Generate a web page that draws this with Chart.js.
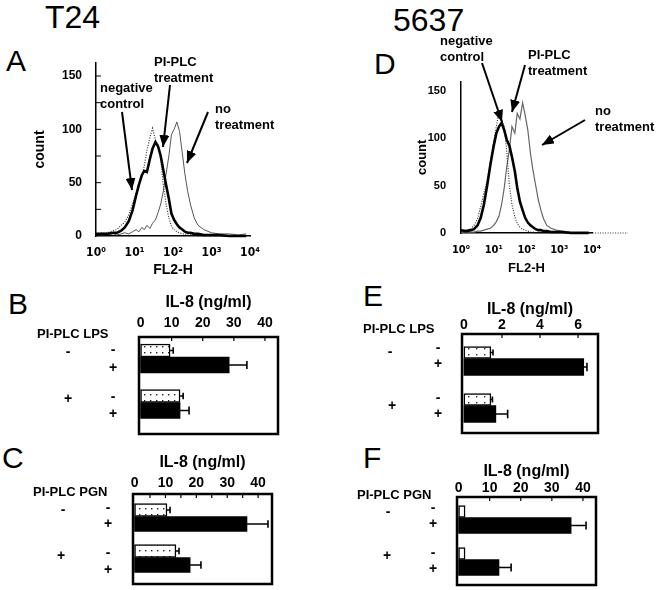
<!DOCTYPE html>
<html>
<head>
<meta charset="utf-8">
<script src="https://cdn.jsdelivr.net/npm/chart.js@4.4.1/dist/chart.umd.min.js"></script>
<style>
  body { margin: 0; background: #fff; }
  #page { position: relative; width: 659px; height: 590px; overflow: hidden;
          font-family: "Liberation Sans", Arial, sans-serif; color: #000; }
  .box { position: absolute; }
  .lbl { position: absolute; white-space: nowrap; line-height: 1; }
  .big { font-size: 30px; }
  .head { font-size: 32px; }
  .note { font-size: 13px; font-weight: bold; line-height: 16px; }
  .hdr { font-size: 13px; font-weight: bold; }
  .sgn { font-size: 14px; font-weight: bold; width: 20px; text-align: center; }
  svg { position: absolute; left: 0; top: 0; pointer-events: none; }
</style>
</head>
<body>
<div id="page">
  <div class="lbl head" style="left:45px;top:1px">T24</div>
  <div class="lbl head" style="left:393px;top:4px">5637</div>

  <div class="lbl big" style="left:6px;top:46px">A</div>
  <div class="lbl big" style="left:8px;top:289px">B</div>
  <div class="lbl big" style="left:2px;top:443px">C</div>
  <div class="lbl big" style="left:374px;top:49px">D</div>
  <div class="lbl big" style="left:363px;top:281px">E</div>
  <div class="lbl big" style="left:363px;top:443px">F</div>

  <div class="box" style="left:0;top:40px;width:290px;height:245px"><canvas id="chartA"></canvas></div>
  <div class="box" style="left:380px;top:60px;width:275px;height:225px"><canvas id="chartD"></canvas></div>
  <div class="box" style="left:130px;top:290px;width:160px;height:150px"><canvas id="chartB"></canvas></div>
  <div class="box" style="left:125px;top:440px;width:160px;height:150px"><canvas id="chartC"></canvas></div>
  <div class="box" style="left:450px;top:280px;width:170px;height:160px"><canvas id="chartE"></canvas></div>
  <div class="box" style="left:445px;top:440px;width:170px;height:150px"><canvas id="chartF"></canvas></div>

  <!-- histogram annotations -->
  <div class="lbl note" style="left:154px;top:53.5px">PI-PLC<br>treatment</div>
  <div class="lbl note" style="left:100px;top:79.5px">negative<br>control</div>
  <div class="lbl note" style="left:215px;top:100.5px">no<br>treatment</div>
  <div class="lbl note" style="left:440px;top:33px">negative<br>control</div>
  <div class="lbl note" style="left:528px;top:47px">PI-PLC<br>treatment</div>
  <div class="lbl note" style="left:595px;top:102.5px">no<br>treatment</div>

  <svg width="659" height="590">
    <defs>
      <marker id="head" markerUnits="userSpaceOnUse" markerWidth="12" markerHeight="10"
              viewBox="0 0 12 10" refX="12" refY="5" orient="auto">
        <path d="M0,0 L12,5 L0,10 z" fill="#000"/>
      </marker>
    </defs>
    <g stroke="#000" stroke-width="2" marker-end="url(#head)">
      <line x1="122" y1="112" x2="132" y2="190"/>
      <line x1="170" y1="85" x2="163" y2="147"/>
      <line x1="208" y1="112" x2="187" y2="163"/>
      <line x1="482" y1="63" x2="502" y2="122"/>
      <line x1="525" y1="65" x2="512" y2="112"/>
      <line x1="585" y1="120" x2="542" y2="145"/>
    </g>
  </svg>

  <!-- bar chart row labels -->
  <div class="lbl hdr" style="left:37px;top:327px">PI-PLC LPS</div>
  <div class="lbl sgn" style="left:58px;top:344px">-</div>
  <div class="lbl sgn" style="left:103px;top:342px">-</div>
  <div class="lbl sgn" style="left:103px;top:360px">+</div>
  <div class="lbl sgn" style="left:58px;top:391px">+</div>
  <div class="lbl sgn" style="left:103px;top:389px">-</div>
  <div class="lbl sgn" style="left:103px;top:406px">+</div>

  <div class="lbl hdr" style="left:33px;top:485px">PI-PLC PGN</div>
  <div class="lbl sgn" style="left:53px;top:502px">-</div>
  <div class="lbl sgn" style="left:98px;top:500px">-</div>
  <div class="lbl sgn" style="left:98px;top:516px">+</div>
  <div class="lbl sgn" style="left:51px;top:548px">+</div>
  <div class="lbl sgn" style="left:98px;top:545px">-</div>
  <div class="lbl sgn" style="left:98px;top:562px">+</div>

  <div class="lbl hdr" style="left:363px;top:322px">PI-PLC LPS</div>
  <div class="lbl sgn" style="left:380px;top:344px">-</div>
  <div class="lbl sgn" style="left:428px;top:340px">-</div>
  <div class="lbl sgn" style="left:428px;top:356px">+</div>
  <div class="lbl sgn" style="left:382px;top:398px">+</div>
  <div class="lbl sgn" style="left:428px;top:390px">-</div>
  <div class="lbl sgn" style="left:428px;top:406px">+</div>

  <div class="lbl hdr" style="left:357px;top:488px">PI-PLC PGN</div>
  <div class="lbl sgn" style="left:378px;top:504px">-</div>
  <div class="lbl sgn" style="left:423px;top:500px">-</div>
  <div class="lbl sgn" style="left:423px;top:516px">+</div>
  <div class="lbl sgn" style="left:377px;top:548px">+</div>
  <div class="lbl sgn" style="left:423px;top:545px">-</div>
  <div class="lbl sgn" style="left:423px;top:561px">+</div>
</div>

<script>
// ---- histogram data (FL2-H channel, cell count) ----
const fl2A = [1, 1.4, 2, 2.8, 3.5, 4.5, 5.6, 7.1, 8.9, 11, 13, 15.5, 18, 21, 25, 29.5, 35, 41, 48,
              56, 66, 78, 91, 107, 126, 148, 174, 204, 240, 282, 355, 447, 631, 1000, 1585, 2818, 5012, 7943];
const negA = [2, 3, 3, 5, 6, 10, 13, 20, 30, 40, 47, 55, 66, 80, 92, 101, 90, 85, 72,
              48, 30, 17, 9, 6, 4, 3, 2, 2, 1, 1, 1, 0, 0, 0, 0, 0, 0, 0];
const plcA = [2, 2, 2, 3, 3, 5, 8, 14, 24, 38, 48, 57, 61, 60, 72, 82, 88, 84, 75,
              62, 48, 35, 21, 15, 11, 8, 6, 4, 3, 3, 2, 2, 1, 1, 1, 0, 0, 0];
const noA  = [2, 1, 2, 2, 1, 2, 3, 2, 4, 6, 4, 8, 6, 10, 7, 12, 15, 22, 30,
              42, 58, 75, 95, 100, 107, 98, 78, 58, 42, 30, 17, 10, 6, 3, 2, 2, 1, 2];

const fl2D = [1, 1.4, 2, 2.5, 3.2, 4, 5, 6.3, 7.9, 10, 12, 14.5, 17.4, 21, 25, 30, 36, 44, 52,
              63, 76, 91, 110, 132, 158, 191, 229, 275, 331, 417, 562, 794, 1259, 2239, 3981, 7943, 125893];
const negD = [2, 2, 4, 8, 15, 28, 42, 55, 75, 96, 112, 128, 118, 112, 85, 50, 30, 17, 10,
              6, 4, 3, 2, 1, 1, 0, 0, 0, 0, 0, 0, 0, 0, 0, 0, 0, 0];
const plcD = [3, 2, 3, 4, 8, 16, 30, 50, 72, 92, 105, 112, 116, 108, 98, 92, 80, 65, 48,
              33, 24, 16, 11, 8, 6, 4, 3, 3, 2, 2, 1, 1, 1, 0, 0, 0, null];
const noD  = [1, 1, 1, 1, 2, 2, 3, 4, 5, 8, 12, 18, 30, 48, 70, 88, 112, 105, 126,
              120, 137, 124, 108, 84, 66, 50, 35, 24, 15, 8, 5, 3, 2, 1, 1, 1, null];

const decades = [1, 10, 100, 1000, 10000];
const SUP = ['\u2070', '\u00b9', '\u00b2', '\u00b3', '\u2074'];
const countTicks = [0, 50, 100, 150];
const countMinor = [25, 50, 75, 100, 125, 150];

// ---- IL-8 data (ng/ml), groups = PI-PLC -, PI-PLC + ----
const piplc = ['-', '+'];
const bLpsOff = [9.5, 12.7],  bLpsOffErr = [1.0, 1.0];
const bLpsOn  = [28.5, 12.7], bLpsOnErr  = [5.7, 2.9];
const cPgnOff = [10.5, 13.4], cPgnOffErr = [1.0, 1.0];
const cPgnOn  = [36.4, 18.0], cPgnOnErr  = [6.8, 3.5];
const eLpsOff = [1.42, 1.42], eLpsOffErr = [0.11, 0.08];
const eLpsOn  = [6.3, 1.68],  eLpsOnErr  = [0.17, 0.62];
const fPgnOff = [2.1, 2.1],   fPgnOffErr = [0, 0];
const fPgnOn  = [36.2, 13.0], fPgnOnErr  = [4.8, 3.9];

const ticks40 = [0, 10, 20, 30, 40];
const ticks6 = [0, 2, 4, 6];

Chart.defaults.font.family = '"Liberation Sans", Arial, sans-serif';
Chart.defaults.color = '#000';
const supFont = '"DejaVu Sans Condensed", "DejaVu Sans", sans-serif';

// small tick marks just inside the y axis
const innerTicks = {
  id: 'innerTicks',
  afterDraw(chart, args, opts) {
    const ctx = chart.ctx, ys = chart.scales.y, x0 = chart.chartArea.left;
    ctx.save();
    ctx.strokeStyle = '#000';
    ctx.lineWidth = 1;
    (opts.values || []).forEach(v => {
      const py = ys.getPixelForValue(v);
      ctx.beginPath(); ctx.moveTo(x0, py); ctx.lineTo(x0 + 5, py); ctx.stroke();
    });
    ctx.restore();
  }
};

// thick box around the bars, with little marks on its top edge
const frame = {
  id: 'frame',
  afterDraw(chart, args, opts) {
    const ctx = chart.ctx, a = chart.chartArea, xs = chart.scales.x;
    const t = a.top + opts.dt, b = a.bottom + opts.db;
    ctx.save();
    ctx.strokeStyle = '#000';
    ctx.lineWidth = 1.2;
    opts.minor.forEach(v => {
      const px = xs.getPixelForValue(v);
      ctx.beginPath(); ctx.moveTo(px, t); ctx.lineTo(px, t + 4); ctx.stroke();
    });
    ctx.lineWidth = 2.5;
    ctx.strokeRect(a.left, t, a.right - a.left, b - t);
    ctx.restore();
  }
};

const errorBars = {
  id: 'errorBars',
  afterDatasetsDraw(chart) {
    const ctx = chart.ctx, xs = chart.scales.x;
    chart.data.datasets.forEach((ds, di) => {
      if (!ds.errors) return;
      chart.getDatasetMeta(di).data.forEach((bar, i) => {
        const err = ds.errors[i];
        if (!err) return;
        const x1 = xs.getPixelForValue(ds.data[i] + err);
        const h = bar.height * 0.5;
        ctx.save();
        ctx.strokeStyle = '#000';
        ctx.lineWidth = 1.6;
        ctx.beginPath();
        ctx.moveTo(bar.x, bar.y); ctx.lineTo(x1, bar.y);
        ctx.moveTo(x1, bar.y - h / 2); ctx.lineTo(x1, bar.y + h / 2);
        ctx.stroke();
        ctx.restore();
      });
    });
  }
};

function dots(w, h) {
  const c = document.createElement('canvas');
  c.width = w; c.height = h;
  const g = c.getContext('2d');
  g.fillStyle = '#fff'; g.fillRect(0, 0, w, h);
  g.fillStyle = '#222'; g.fillRect(2, 2, 1.4, 1.4);
  return g.createPattern(c, 'repeat');
}

function histChart(id, fl2, series, o) {
  return new Chart(document.getElementById(id), {
    type: 'line',
    data: {
      datasets: series.map(s => ({
        data: fl2.map((v, i) => ({ x: v, y: s.counts[i] })),
        borderColor: s.color,
        borderWidth: s.width,
        borderDash: s.dash || [],
        pointRadius: 0,
        tension: 0,
        clip: false
      }))
    },
    plugins: [innerTicks],
    options: {
      responsive: true,
      maintainAspectRatio: false,
      animation: false,
      layout: { padding: o.pad },
      plugins: { legend: { display: false }, tooltip: { enabled: false }, innerTicks: { values: o.minor } },
      scales: {
        x: {
          type: 'logarithmic', min: 1, max: 10000,
          grid: { display: false, drawTicks: false },
          border: { color: '#000', width: 1.5 },
          ticks: { font: { family: supFont, size: o.xtick, weight: 'bold' }, padding: o.xPad,
                   maxRotation: 0, autoSkip: false,
                   callback: v => '10' + SUP[Math.round(Math.log10(v))] },
          afterBuildTicks: s => { s.ticks = decades.map(v => ({ value: v })); },
          afterFit: s => { s.height = o.xH; },
          title: { display: true, text: 'FL2-H', font: { size: o.title, weight: 'bold' },
                   padding: { top: 0, bottom: o.xtPad } }
        },
        y: {
          min: 0, max: o.ymax,
          grid: { display: false, drawTicks: false },
          border: { color: '#000', width: 1.5 },
          ticks: { font: { size: o.tick, weight: 'bold' }, padding: o.yPad },
          afterBuildTicks: s => { s.ticks = countTicks.map(v => ({ value: v })); },
          afterFit: s => { s.width = o.yW; },
          title: { display: true, text: 'count', font: { size: o.title, weight: 'bold' },
                   padding: { top: o.ytPad, bottom: 0 } }
        }
      }
    }
  });
}

function barChart(id, off, offErr, on, onErr, o) {
  return new Chart(document.getElementById(id), {
    type: 'bar',
    data: {
      labels: piplc,
      datasets: [
        { data: off, errors: offErr, backgroundColor: o.fill, borderColor: '#000', borderWidth: 1.5,
          borderSkipped: false, barThickness: o.thin },
        { data: on, errors: onErr, backgroundColor: '#000', borderWidth: 0, barThickness: o.thick }
      ]
    },
    plugins: [frame, errorBars],
    options: {
      indexAxis: 'y',
      responsive: true,
      maintainAspectRatio: false,
      animation: false,
      layout: { padding: o.pad },
      plugins: { legend: { display: false }, tooltip: { enabled: false },
                 frame: { dt: o.dt, db: o.db, minor: o.minor } },
      scales: {
        x: {
          position: 'top', min: o.min, max: o.max,
          grid: { display: false, drawTicks: false },
          border: { display: false },
          ticks: { font: { size: 14, weight: 'bold' }, padding: o.tPad, maxRotation: 0, autoSkip: false },
          afterBuildTicks: s => { s.ticks = o.ticks.map(v => ({ value: v })); },
          afterFit: s => { s.height = o.xH; },
          title: { display: true, text: 'IL-8 (ng/ml)', font: { size: 16, weight: 'bold' },
                   padding: { top: o.ttPad, bottom: 0 } }
        },
        y: { display: false }
      }
    }
  });
}

histChart('chartA', fl2A, [
  { counts: plcA, color: '#000', width: 2.6 },
  { counts: negA, color: '#333', width: 1.2, dash: [1, 1.5] },
  { counts: noA, color: '#555', width: 1 }
], { pad: { left: 0, top: 23, right: 40, bottom: 0 }, yW: 96, xH: 49, ymax: 162.2,
     tick: 12, xtick: 12, title: 14, xPad: 10, yPad: 14, xtPad: 6.6, ytPad: 32, minor: countMinor });

histChart('chartD', fl2D, [
  { counts: plcD, color: '#000', width: 2.6 },
  { counts: negD, color: '#333', width: 1.2, dash: [1, 1.5] },
  { counts: noD, color: '#666', width: 1.2 }
], { pad: { left: 0, top: 20, right: 63, bottom: 0 }, yW: 81, xH: 52, ymax: 159.4,
     tick: 11, xtick: 11, title: 13, xPad: 10.4, yPad: 15, xtPad: 9.2, ytPad: 35, minor: [] });

barChart('chartB', bLpsOff, bLpsOffErr, bLpsOn, bLpsOnErr,
  { fill: dots(6, 6), thin: 13, thick: 16, min: -0.5, max: 44.2, ticks: ticks40, minor: [10, 20, 30, 40],
    pad: { left: 9, right: 12, top: 0, bottom: 14.75 }, xH: 44.25, tPad: 2.85, ttPad: 3.4, dt: 2.75, db: 8.75 });

barChart('chartC', cPgnOff, cPgnOffErr, cPgnOn, cPgnOnErr,
  { fill: dots(6, 6), thin: 13, thick: 15, min: -0.5, max: 44.5, ticks: ticks40,
    minor: [5, 10, 15, 20, 25, 30, 35, 40],
    pad: { left: 8, right: 13, top: 0, bottom: 12 }, xH: 56, tPad: 4.6, ttPad: 13.4, dt: -2, db: 6 });

barChart('chartE', eLpsOff, eLpsOffErr, eLpsOn, eLpsOnErr,
  { fill: dots(8, 6), thin: 12, thick: 17, min: -0.1, max: 7.05, ticks: ticks6, minor: [2, 4, 6],
    pad: { left: 12, right: 22, top: 0, bottom: 11 }, xH: 55, tPad: 1.6, ttPad: 20.4, dt: -1, db: 4 });

barChart('chartF', fPgnOff, fPgnOffErr, fPgnOn, fPgnOnErr,
  { fill: '#fff', thin: 12, thick: 16, min: -0.5, max: 44.2, ticks: ticks40, minor: [10, 20, 30, 40],
    pad: { left: 12, right: 19, top: 0, bottom: 9.5 }, xH: 56.5, tPad: 0, ttPad: 22.4, dt: 0.5, db: 4.5 });
</script>
</body>
</html>
